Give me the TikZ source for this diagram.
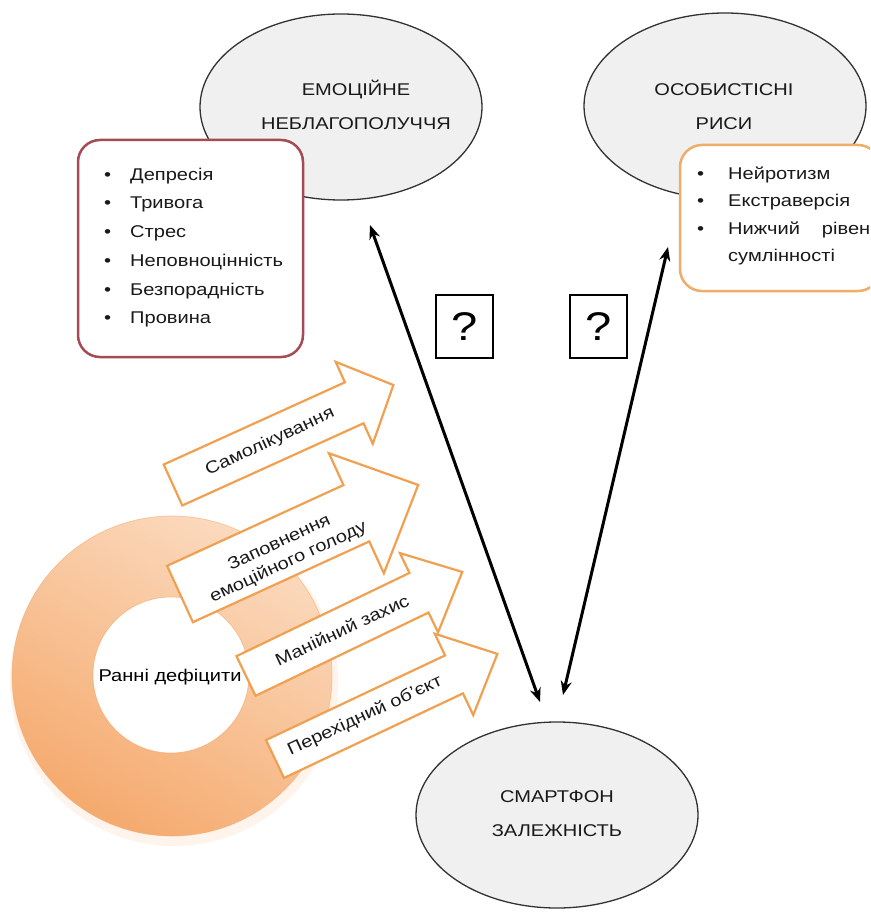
\documentclass[tikz,border=0pt]{standalone}
\usepackage{fontspec}
\setmainfont{Liberation Sans}[FakeStretch=1.18]
\usetikzlibrary{arrows.meta,shapes.geometric}
\definecolor{ellfill}{RGB}{240,240,240}
\definecolor{ellline}{RGB}{50,50,50}
\definecolor{redline}{RGB}{165,75,85}
\definecolor{orline}{RGB}{240,172,105}
\definecolor{arline}{RGB}{240,160,80}
\definecolor{ringA}{RGB}{251,218,190}
\definecolor{ringB}{RGB}{245,170,110}
\definecolor{txt}{RGB}{25,25,25}
\newcommand{\blockarrow}[6]{%
  \begin{scope}[shift={#1}, rotate=#2]
    \draw[barrow] (0,-#4) -- ({#3-#6},-#4) -- ({#3-#6},-#5) -- (#3,0) -- ({#3-#6},#5) -- ({#3-#6},#4) -- (0,#4) -- cycle;
  \end{scope}}
\begin{document}
\begin{tikzpicture}[x=1pt,y=-1pt,
  ell/.style={ellipse, draw=ellline, fill=ellfill, line width=1.3pt, minimum width=282pt, minimum height=186pt},
  elltext/.style={align=center, font=\fontsize{17}{34}\selectfont, text=txt, inner sep=0pt},
  listbox/.style={rounded corners=22pt, line width=2.5pt, fill=white},
  item/.style={anchor=base west, font=\fontsize{17}{20}\selectfont, text=txt, inner sep=0pt},
  barrow/.style={draw=arline, line width=2.2pt, fill=white, line join=miter},
  alabel/.style={font=\fontsize{17}{21.5}\selectfont, text=txt, align=center, rotate=25, inner sep=0pt},
  qbox/.style={draw=black, line width=1.8pt, minimum width=57pt, minimum height=63pt, inner sep=0pt, font=\fontsize{40}{40}\selectfont, fill=white},
  link/.style={line width=3pt, {Stealth[length=14pt,width=11pt]}-{Stealth[length=14pt,width=11pt]}}
]
\useasboundingbox (0,0) rectangle (870,912);
\begin{scope}
\clip (0,0) rectangle (870,912);
% ellipses
\node[ell] (emo) at (341,107) {};
\node[elltext] (emot) at (356,105) {ЕМОЦІЙНЕ\\НЕБЛАГОПОЛУЧЧЯ};
\node[ell] (pers) at (725,106) {};
\node[elltext] (perst) at (724,107) {ОСОБИСТІСНІ\\РИСИ};
\node[ell] (smart) at (557,815) {};
\node[elltext] (smartt) at (557,814) {СМАРТФОН\\ЗАЛЕЖНІСТЬ};
% list boxes
\draw[listbox, draw=redline] (78,140) rectangle (303,357);
\draw[listbox, draw=orline] (680,145) rectangle (880,291);
\node[item] (d1) at (104,180) {\makebox[26pt][l]{•}Депресія};
\node[item] (d2) at (104,208) {\makebox[26pt][l]{•}Тривога};
\node[item] (d3) at (104,237) {\makebox[26pt][l]{•}Стрес};
\node[item] (d4) at (104,266) {\makebox[26pt][l]{•}Неповноцінність};
\node[item] (d5) at (104,295) {\makebox[26pt][l]{•}Безпорадність};
\node[item] (d6) at (104,323) {\makebox[26pt][l]{•}Провина};
\node[item] (o1) at (697,179) {\makebox[31pt][l]{•}Нейротизм};
\node[item] (o2) at (697,206) {\makebox[31pt][l]{•}Екстраверсія};
\node[item] (o3) at (697,234) {\makebox[31pt][l]{•}Нижчий\hspace{22pt}рівень};
\node[item] (o4) at (728,261) {сумлінності};
% ring
\fill[ringA, opacity=0.3, even odd rule] (174,682) circle[radius=164] (171,675) circle[radius=78];
\shade[even odd rule, top color=ringA, bottom color=ringB, shading angle=-30] (172,676) circle[radius=160] (171,675) circle[radius=78];
\draw[ringB, line width=0.7pt, opacity=0.6] (172,676) circle[radius=160] (171,675) circle[radius=78];
% block arrows
\blockarrow{(173,485)}{24.4}{242}{22.5}{45}{43}
\blockarrow{(180,594)}{24.6}{262}{31}{66}{68}
\blockarrow{(246,676)}{25.7}{240}{22}{44}{48}
\blockarrow{(275,759)}{25.3}{246}{21}{45}{48}
\node[alabel] (l1) at (270,442) {Самолікування};
\node[alabel] (l2) at (284,553) {Заповнення\\емоційного голоду};
\node[alabel] (l3) at (342,630) {Манійний захис};
\node[alabel] (l4) at (365,716) {Перехідний об’єкт};
\node[font=\fontsize{17}{20}\selectfont, text=black, inner sep=0pt] (rd) at (170,677) {Ранні дефіцити};
% question boxes
\node[qbox] (q1) at (464.5,326.5) {?};
\node[qbox] (q2) at (598.5,326.5) {?};
% links
\coordinate (e1) at (370,225);
\coordinate (s1) at (540,702);
\coordinate (p1) at (668,247);
\coordinate (s2) at (563,695);
\draw[link] (e1) -- (s1);
\draw[link] (p1) -- (s2);
\end{scope}
\end{tikzpicture}
\end{document}
